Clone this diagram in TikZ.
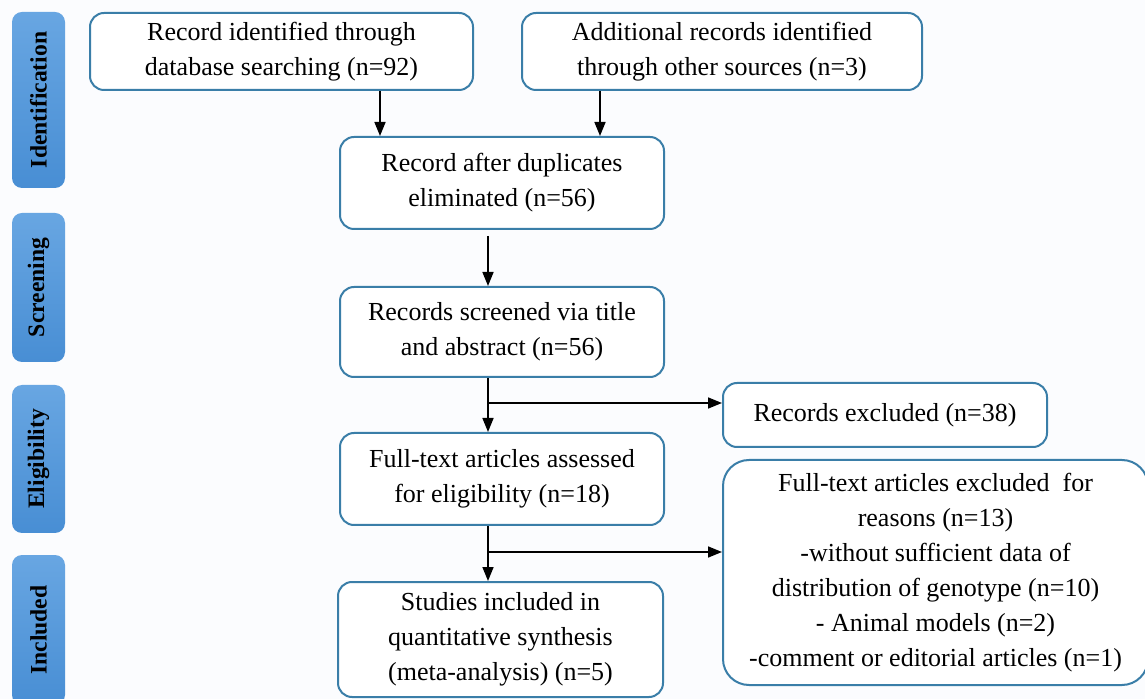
\documentclass[tikz,border=0pt]{standalone}
\usepackage{fontspec}
\setmainfont{Liberation Serif}
\usetikzlibrary{arrows.meta}
\definecolor{bordc}{RGB}{58,126,168}
\definecolor{sidetop}{RGB}{104,166,226}
\definecolor{sidebot}{RGB}{72,142,212}
\definecolor{bgc}{RGB}{251,252,254}
\tikzset{
  box/.style={draw=bordc, line width=1pt, rounded corners=7pt, fill=white, align=center,
    inner sep=0pt, font=\fontsize{13}{17.5}\selectfont},
  side/.style={rounded corners=5pt, top color=sidetop, bottom color=sidebot, draw=none,
    minimum width=26.5pt, inner sep=0pt, font=\fontsize{11.8}{13}\selectfont\bfseries, rotate=90},
  arr/.style={line width=0.8pt, -{Triangle[length=7pt,width=5.5pt]}},
}
\begin{document}
\begin{tikzpicture}[x=0.5pt,y=-0.5pt]
\useasboundingbox (0,0) rectangle (1145,699);
\fill[bgc] (0,0) rectangle (1145,699);
% side bars (rotated: minimum width is along text direction)
\node[side, minimum width=176*0.5pt, minimum height=26.5pt] (s1) at (38.5,100) {Identification};
\node[side, minimum width=149*0.5pt, minimum height=26.5pt] (s2) at (38.5,287.5) {Screening};
\node[side, minimum width=148*0.5pt, minimum height=26.5pt] (s3) at (38.5,459) {Eligibility};
\node[side, minimum width=150*0.5pt, minimum height=26.5pt] (s4) at (38.5,630) {Included};
% boxes
\node[box, minimum width=191.5pt, minimum height=38.5pt] (b1) at (281.5,51.5)
  {Record identified through\\database searching (n=92)};
\node[box, minimum width=200pt, minimum height=38.5pt] (b2) at (722,51.5)
  {Additional records identified\\through other sources (n=3)};
\node[box, minimum width=162pt, minimum height=46pt] (b3) at (502,183)
  {Record after duplicates\\eliminated (n=56)};
\node[box, minimum width=162pt, minimum height=45pt] (b4) at (502,332)
  {Records screened via title\\and abstract (n=56)};
\node[box, minimum width=162pt, minimum height=32pt] (b5) at (885,415)
  {Records excluded (n=38)};
\node[box, minimum width=162pt, minimum height=46pt] (b6) at (502,479)
  {Full-text articles assessed\\for eligibility (n=18)};
\node[box, rounded corners=13pt, minimum width=212.5pt, minimum height=112.5pt] (b7) at (935.5,572.5)
  {Full-text articles excluded\ \ for\\reasons (n=13)\\-without sufficient data of\\distribution of genotype (n=10)\\- Animal models (n=2)\\-comment or editorial articles (n=1)};
\node[box, minimum width=162.5pt, minimum height=57.5pt] (b8) at (500.5,639.5)
  {Studies included in\\quantitative synthesis\\(meta-analysis) (n=5)};
% connectors
\coordinate (x1) at (380,0);
\coordinate (x2) at (600,0);
\coordinate (x3) at (488,0);
\coordinate (j1) at (488,403);
\coordinate (j2) at (488,552);
\draw[arr] (b1.south -| x1) -- (b3.north -| x1);
\draw[arr] (b2.south -| x2) -- (b3.north -| x2);
\draw[arr] ([yshift=-3pt]b3.south -| x3) -- (b4.north -| x3);
\draw[arr] (b4.south -| x3) -- (b6.north -| x3);
\draw[arr] (j1) -- (j1 -| b5.west);
\draw[arr] (b6.south -| x3) -- (b8.north -| x3);
\draw[arr] (j2) -- (j2 -| b7.west);
\end{tikzpicture}
\end{document}
